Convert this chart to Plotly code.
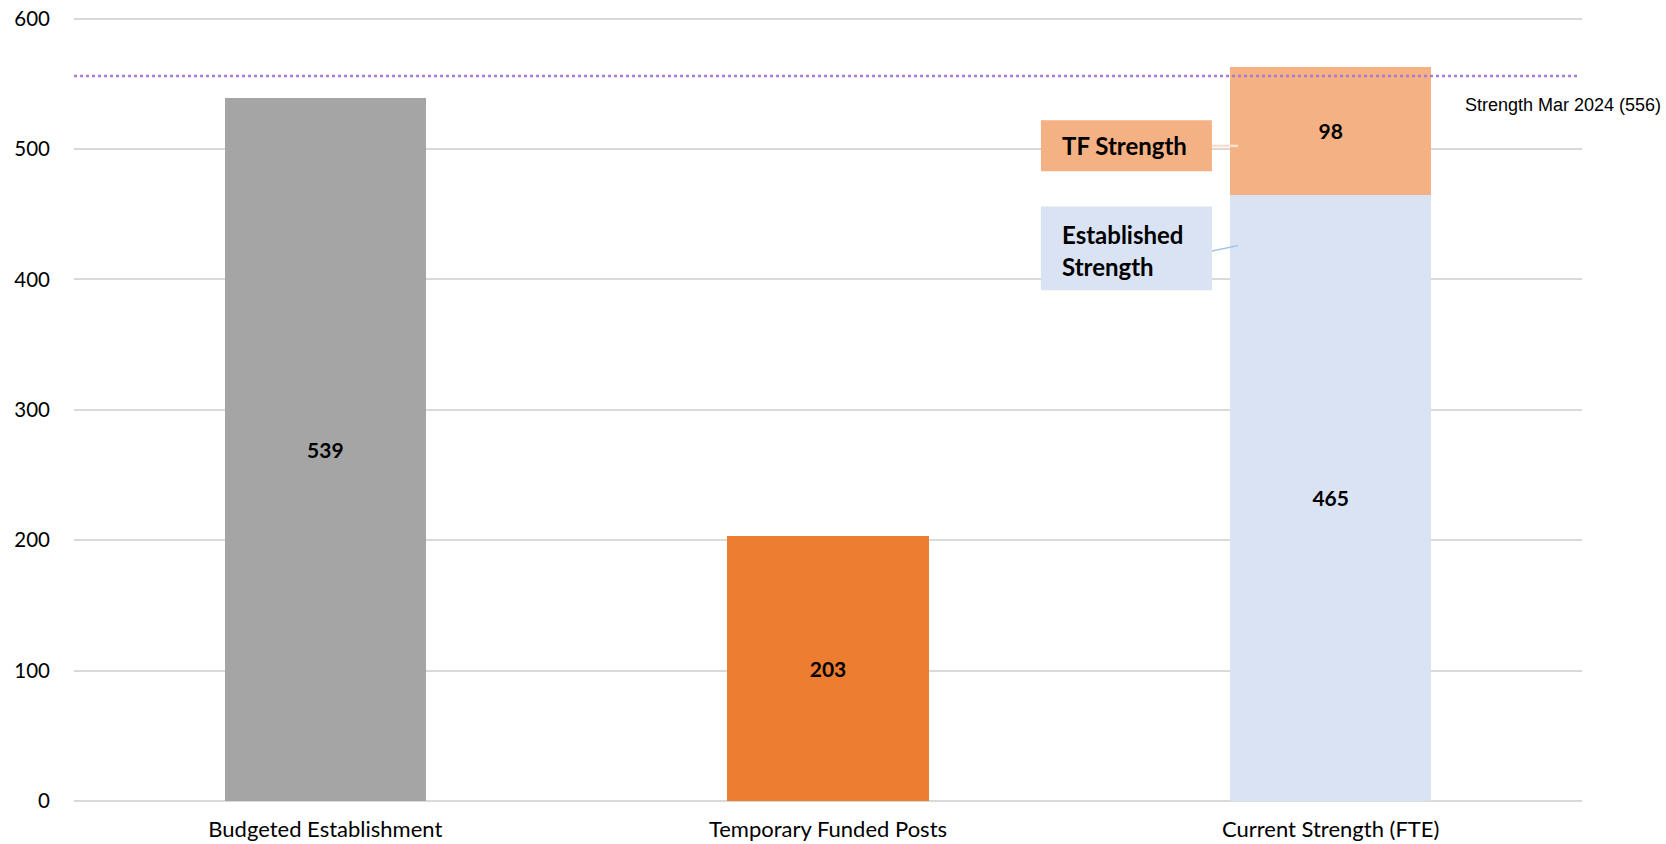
import plotly.graph_objects as go

# Headcount data
categories = ["Budgeted Establishment", "Temporary Funded Posts", "Current Strength (FTE)"]
budgeted = [539]
temporary = [203]
established_strength = [465]
tf_strength = [98]
strength_mar_2024 = 556
y_ticks = [0, 100, 200, 300, 400, 500, 600]

label_font = dict(family="Lato", size=21, color="black")

fig = go.Figure()
fig.add_trace(go.Bar(x=[categories[0]], y=budgeted, marker_color="#A5A5A5", name="Budgeted"))
fig.add_trace(go.Bar(x=[categories[1]], y=temporary, marker_color="#ED7D31", name="Temporary"))
fig.add_trace(go.Bar(x=[categories[2]], y=established_strength, marker_color="#DAE3F3", name="Established Strength"))
fig.add_trace(go.Bar(x=[categories[2]], y=tf_strength, marker_color="#F4B183", name="TF Strength"))
fig.update_traces(texttemplate="<b>%{y}</b>", textposition="inside", insidetextanchor="middle",
                  textfont=label_font, marker_line_width=0, hoverinfo="x+y")

# Strength reference line
fig.add_shape(type="line", xref="paper", yref="y", x0=0, x1=0.9985, y0=strength_mar_2024, y1=strength_mar_2024,
              line=dict(color="#A77BD3", width=2.5, dash="dot"))
fig.add_annotation(xref="paper", yref="y", x=0.921, y=534, xanchor="left", yanchor="middle",
                   showarrow=False, text=f"Strength Mar 2024 ({strength_mar_2024})",
                   font=dict(family="Liberation Sans", size=18, color="black"))

# Segment callout boxes
fig.add_shape(type="rect", xref="paper", yref="y", x0=0.6412, x1=0.7546, y0=482.9, y1=522.0,
              fillcolor="#F4B183", line_width=0, layer="above")
fig.add_shape(type="rect", xref="paper", yref="y", x0=0.6412, x1=0.7546, y0=391.7, y1=456.0,
              fillcolor="#DAE3F3", line_width=0, layer="above")
fig.add_shape(type="line", xref="paper", yref="y", x0=0.7546, x1=0.7719, y0=502.4, y1=502.4,
              line=dict(color="#FBE0CF", width=2.5))
fig.add_shape(type="line", xref="paper", yref="y", x0=0.7546, x1=0.7719, y0=421.8, y1=425.9,
              line=dict(color="#9DC3E6", width=1.5))
box_font = dict(family="Lato", size=24, color="black")
fig.add_annotation(xref="paper", yref="y", x=0.6538, y=502.4, xanchor="left", yanchor="middle",
                   showarrow=False, text="<b>TF Strength</b>", font=box_font)
fig.add_annotation(xref="paper", yref="y", x=0.6538, y=434.7, xanchor="left", yanchor="middle",
                   showarrow=False, text="<b>Established</b>", font=box_font)
fig.add_annotation(xref="paper", yref="y", x=0.6538, y=410.1, xanchor="left", yanchor="middle",
                   showarrow=False, text="<b>Strength</b>", font=box_font)

fig.update_layout(
    width=1666, height=844,
    margin=dict(l=74, r=84, t=16, b=43),
    barmode="stack", bargap=0.6, showlegend=False,
    plot_bgcolor="white", paper_bgcolor="white",
    font=dict(family="Lato", size=20, color="black"),
)
fig.update_xaxes(automargin=False, showline=False, showgrid=False, ticks="", ticklabelstandoff=13,
                 tickfont=dict(family="Lato", size=22, color="black"))
fig.update_yaxes(automargin=False, range=[0, 602], tickvals=y_ticks, showgrid=True, gridcolor="#D9D9D9",
                 gridwidth=1.5, zeroline=True, zerolinecolor="#D9D9D9", zerolinewidth=1.5, showline=False,
                 ticks="", ticklabelstandoff=23, tickfont=dict(family="Lato", size=20.5, color="black"))

fig.write_html("out.html")
